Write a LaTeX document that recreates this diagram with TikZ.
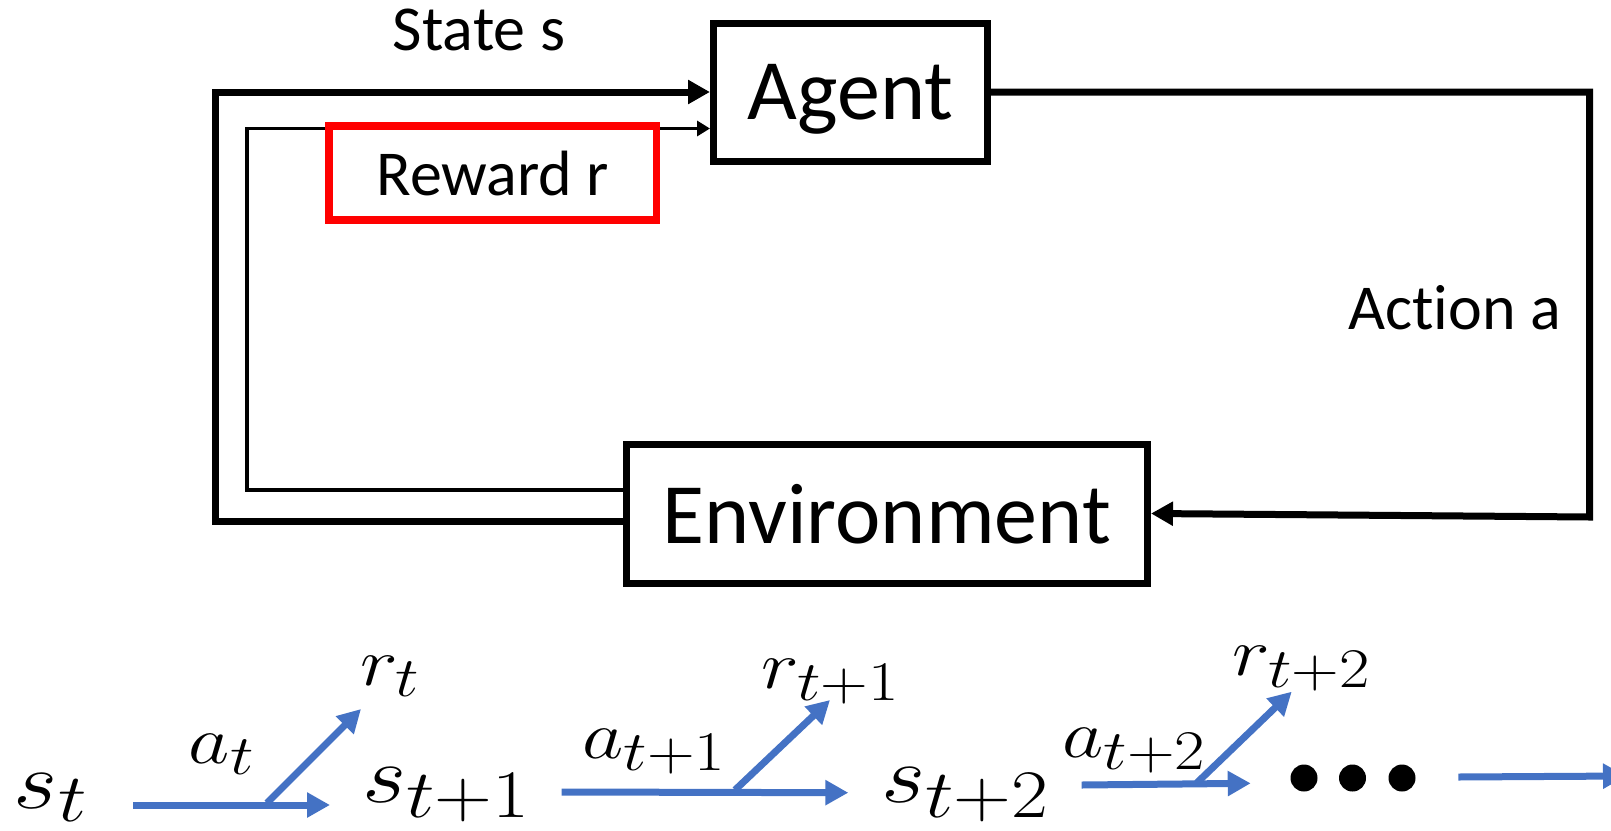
\documentclass[tikz,border=0pt]{standalone}
\usepackage{fix-cm}
\usepackage[no-math]{fontspec}
\setmainfont{Carlito}[Ligatures=NoCommon]
\usetikzlibrary{arrows.meta,calc}
% math sizes for the trajectory labels (large script ratio)
\DeclareMathSizes{81}{81}{68}{56}
\DeclareMathSizes{68}{68}{56}{46}
\definecolor{flowblue}{RGB}{68,114,196}
\definecolor{rewardred}{RGB}{255,0,0}

\begin{document}
\begin{tikzpicture}[x=1pt,y=-1pt,line join=miter,
  blockbox/.style={draw=black, line width=7pt, inner sep=0pt, text depth=0pt,
    font=\fontsize{86}{92}\selectfont},
  plaintext/.style={inner sep=0pt, font=\fontsize{64}{72}\selectfont},
  mainflow/.style={draw=black, line width=7pt, -{Triangle[length=22pt,width=23pt]}},
  thinflow/.style={draw=black, line width=3.5pt, -{Triangle[length=13pt,width=15pt]}},
  chain/.style={draw=flowblue, line width=7pt, -{Triangle[length=23pt,width=24pt]}},
  bigmath/.style={inner sep=0pt, anchor=base, xscale=1.18, font=\fontsize{81}{90}\selectfont},
  smallmath/.style={inner sep=0pt, anchor=base, xscale=1.18, font=\fontsize{68}{76}\selectfont}]

\path[use as bounding box] (0,0) rectangle (1611,830);

% ---- agent / environment loop ----
\node[blockbox, minimum width=274pt, minimum height=138pt] (agent) at (850.5,92) {Agent};
\node[blockbox, minimum width=521.5pt, minimum height=139pt] (env) at (886.75,513.5) {Environment};

\node[plaintext, anchor=base] (state) at (479,50) {State s};
\node[plaintext, anchor=base] (action) at (1454.5,329.3) {Action a};

\coordinate (outerL) at (215,521);
\coordinate (innerL) at (247,490);
\coordinate (rewardIn) at (700,128.5);
\coordinate (actTop) at (1589.5,92);
\coordinate (actBot) at (1589.5,517);

% state feedback (thick) and reward feedback (thin)
\draw[mainflow] (env.west |- outerL) -- (outerL) |- (agent.west);
\draw[thinflow] (env.west |- innerL) -- (innerL) |- (agent.west |- rewardIn);

% action from agent to environment
\draw[mainflow] (agent.east) -- (actTop) -- (actBot) -- (env.east);

% highlighted reward label
\node[draw=rewardred, line width=7.5pt, minimum width=327.7pt, minimum height=94pt,
  inner sep=0pt, text depth=0pt, plaintext] (reward) at (492.85,173) {Reward r};

% ---- trajectory ----
\node[bigmath] (s0) at (50.5,808) {$s_t$};
\node[bigmath] (s1) at (446,802) {$s_{t+1}$};
\node[bigmath] (s2) at (965,802) {$s_{t+2}$};
\node[smallmath] (a0) at (221.5,763) {$a_t$};
\node[smallmath] (r0) at (390,685) {$r_t$};
\node[smallmath] (a1) at (654,758) {$a_{t+1}$};
\node[smallmath] (r1) at (830.5,688) {$r_{t+1}$};
\node[smallmath] (a2) at (1134,757) {$a_{t+2}$};
\node[smallmath] (r2) at (1301.5,675) {$r_{t+2}$};

\coordinate (h0a) at (133,805);    \coordinate (h0b) at (330,805);
\coordinate (d0a) at (267,803);    \coordinate (d0b) at (361,709);
\coordinate (h1a) at (561.7,792);  \coordinate (h1b) at (848.3,792.7);
\coordinate (d1a) at (735,790);    \coordinate (d1b) at (830,700);
\coordinate (h2a) at (1081.7,785); \coordinate (h2b) at (1250.7,783.3);
\coordinate (d2a) at (1196.7,783); \coordinate (d2b) at (1291.7,691.7);
\coordinate (h3a) at (1458.3,777); \coordinate (h3b) at (1626,776);

\draw[chain] (h0a) -- (h0b);
\draw[chain] (d0a) -- (d0b);
\draw[chain] (h1a) -- (h1b);
\draw[chain] (d1a) -- (d1b);
\draw[chain] (h2a) -- (h2b);
\draw[chain] (d2a) -- (d2b);
\draw[chain] (h3a) -- (h3b);

% ellipsis dots
\coordinate (dots) at (1352.5,778);
\fill (dots) ++(-48.5,0) circle (13.5);
\fill (dots) circle (13.5);
\fill (dots) ++(49.5,0) circle (13.5);

\end{tikzpicture}
\end{document}
